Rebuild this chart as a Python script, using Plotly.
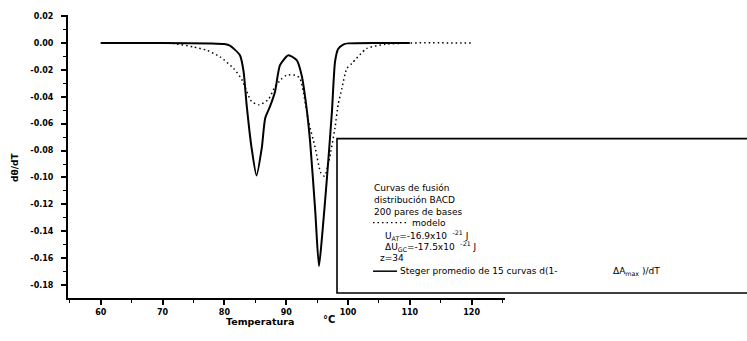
import plotly.graph_objects as go

# --- data ---
steger_T = [60, 70, 78, 80, 80.9, 82.5, 83.1, 83.6, 84.4, 85.2, 86.05, 86.6, 87.4, 88.2, 89.0,
            90.35, 91.7, 92.5, 93.3, 93.9, 94.7, 95.3, 95.8, 96.6, 97.4, 97.9, 98.4, 99.3, 100, 105, 110]
steger_v = [0, 0, -0.0003, -0.0008, -0.002, -0.009, -0.021, -0.046, -0.078, -0.0985, -0.078, -0.056,
            -0.047, -0.036, -0.0165, -0.0091, -0.0128, -0.024, -0.0485, -0.075, -0.125, -0.166, -0.144,
            -0.100, -0.051, -0.014, -0.0045, -0.001, -0.0003, 0, 0]

modelo_T = [60, 70, 72, 75, 77.2, 79.3, 81.5, 82.8, 84.4, 85.6, 87.1, 88.2, 89.2, 90.1, 91.4, 92.2,
            93.6, 94.7, 95.6, 96.2, 96.9, 97.9, 98.4, 99.0, 99.8, 100.6, 103, 106, 110, 120]
modelo_v = [0, 0, -0.0005, -0.003, -0.0055, -0.0103, -0.019, -0.027, -0.0435, -0.046, -0.042, -0.0325,
            -0.027, -0.0239, -0.024, -0.026, -0.058, -0.078, -0.0965, -0.099, -0.088, -0.063, -0.046,
            -0.034, -0.019, -0.0153, -0.0042, -0.001, 0, 0]

x_ticks = [60, 70, 80, 90, 100, 110, 120]
y_ticks = [0.02, 0.00, -0.02, -0.04, -0.06, -0.08, -0.10, -0.12, -0.14, -0.16, -0.18]
y_tick_text = ["0.02", "0.00", "-0.02", "-0.04", "-0.06", "-0.08", "-0.10", "-0.12", "-0.14", "-0.16", "-0.18"]

legend_header = ["Curvas de fusión", "distribución BACD", "200 pares de bases"]

FONT = "DejaVu Sans, Liberation Sans, sans-serif"

fig = go.Figure()
fig.add_trace(go.Scatter(x=modelo_T, y=modelo_v, mode="lines",
                         line=dict(color="black", width=1.5, dash="1.5px,3px", shape="spline", smoothing=0.6),
                         showlegend=False, hoverinfo="skip"))
fig.add_trace(go.Scatter(x=steger_T, y=steger_v, mode="lines",
                         line=dict(color="black", width=2, shape="spline", smoothing=0.6),
                         showlegend=False, hoverinfo="skip"))

W, H = 747, 341
L, R, T, B = 68, 505, 13, 298


def px(x):
    return (x - L) / (R - L)


def py(y):
    return (B - y) / (B - T)


# legend box (runs off the right edge like the reference)
fig.add_shape(type="rect", xref="paper", yref="paper", x0=px(337), x1=px(770), y0=py(293), y1=py(137.5),
              line=dict(color="black", width=1.6), fillcolor="white", layer="above")

text_font = dict(family=FONT, size=9, color="black")
ann = []
for t, yy in zip(legend_header, [187, 199, 211]):
    ann.append((372, yy, t))
fig.add_shape(type="line", xref="paper", yref="paper", x0=px(373), x1=px(408), y0=py(222), y1=py(222),
              line=dict(color="black", width=1.3, dash="1.5px,3px"))
ann.append((410, 222, "modelo"))
ann.append((383, 235, "U<sub>AT</sub>=-16.9x10&nbsp;&nbsp;<sup>-21</sup> J"))
ann.append((383, 246, "ΔU<sub>GC</sub>=-17.5x10&nbsp;&nbsp;<sup>-21</sup> J"))
ann.append((378, 258, "z=34"))
fig.add_shape(type="line", xref="paper", yref="paper", x0=px(373), x1=px(397), y0=py(271), y1=py(271),
              line=dict(color="black", width=1.5))
ann.append((398, 271, "Steger promedio de 15 curvas d(1-"))
ann.append((611, 271, "ΔA<sub>max</sub>&nbsp;)/dT"))

annotations = []
for x, y, t in ann:
    annotations.append(dict(xref="paper", yref="paper", x=px(x), y=py(y), text=t,
                            showarrow=False, xanchor="left", yanchor="middle", font=text_font))
# axis titles
annotations.append(dict(xref="paper", yref="paper", x=px(260), y=py(322), text="Temperatura",
                        showarrow=False, xanchor="center", yanchor="middle",
                        font=dict(family=FONT, size=9.5, color="black", weight="bold")))
annotations.append(dict(xref="paper", yref="paper", x=px(329), y=py(320), text="°C",
                        showarrow=False, xanchor="center", yanchor="middle",
                        font=dict(family=FONT, size=10, color="black", weight="bold")))
annotations.append(dict(xref="paper", yref="paper", x=px(15), y=py(167), text="dθ/dT", textangle=-90,
                        showarrow=False, xanchor="center", yanchor="middle",
                        font=dict(family=FONT, size=9, color="black", weight="bold")))

tick_font = dict(family=FONT, size=8, color="black", weight="bold")
fig.update_layout(
    width=W, height=H,
    margin=dict(l=L, r=W - R, t=T, b=H - B),
    plot_bgcolor="white", paper_bgcolor="white",
    annotations=annotations,
    xaxis=dict(range=[54.7, 125.4], tickvals=x_ticks, ticktext=[str(v) for v in x_ticks],
               showgrid=False, zeroline=False, showline=True, linecolor="black", linewidth=2,
               ticks="outside", ticklen=5, tickwidth=1.5, tickcolor="black", tickfont=tick_font,
               minor=dict(tickvals=[55, 65, 75, 85, 95, 105, 115, 125], ticks="outside", ticklen=3,
                          tickwidth=1.2, tickcolor="black")),
    yaxis=dict(range=[-0.1896, 0.0208], tickvals=y_ticks, ticktext=y_tick_text,
               showgrid=False, zeroline=False, showline=True, linecolor="black", linewidth=2,
               ticks="outside", ticklen=5, tickwidth=1.5, tickcolor="black", tickfont=tick_font,
               ticklabelstandoff=6,
               minor=dict(tickvals=[0.01, -0.01, -0.03, -0.05, -0.07, -0.09, -0.11, -0.13, -0.15, -0.17],
                          ticks="outside", ticklen=3, tickwidth=1.2, tickcolor="black")),
)

fig.write_html("out.html", config={"displayModeBar": False},
               post_script="document.body.style.margin='0';document.body.style.overflow='hidden';")
